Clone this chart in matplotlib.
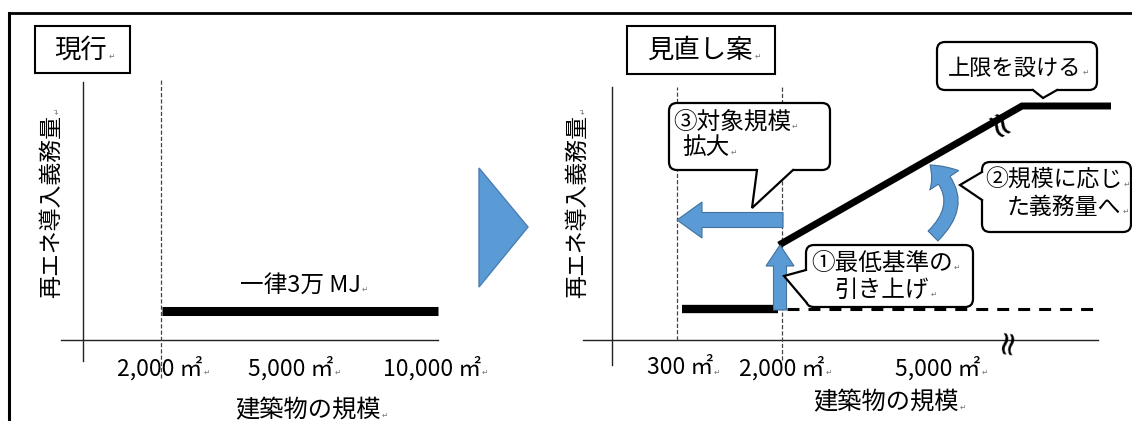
import matplotlib
matplotlib.use('Agg')
import matplotlib.pyplot as plt
from matplotlib.patches import FancyBboxPatch, Polygon, FancyArrowPatch, Rectangle

plt.rcParams['font.family'] = ['Noto Sans CJK JP', 'DejaVu Sans']
plt.rcParams['lines.scale_dashes'] = False

# ---- schematic data (units ~ px, origin where the two axes cross, y up) ----
# current rule
now_ticks = [77, 208, 349]
now_tick_labels = ['2,000 ㎡', '5,000 ㎡', '10,000 ㎡']
now_threshold = 78
now_level_x = [79, 355]
now_level_y = [29, 29]
now_level_label = '一律3万 MJ'

# proposed rule
new_ticks = [68, 170, 326]
new_tick_labels = ['300 ㎡', '2,000 ㎡', '5,000 ㎡']
new_thresholds = [65, 170]
new_low_x = [70, 166]
new_low_y = [31, 31]
old_level_x = [175, 486]
old_level_y = [31, 31]
new_rise_x = [167, 410, 499]
new_rise_y = [95, 234, 234]

BLUE = '#5B9BD5'
EDGE = '#41719C'
W, H = 1132, 421

fig = plt.figure(figsize=(W / 100, H / 100), dpi=100)


def panel(ox, oy):
    ax = fig.add_axes([0, 0, 1, 1])
    ax.set_xlim(-ox, W - ox)
    ax.set_ylim(oy - H, oy)
    ax.set_facecolor('none')
    ax.axis('off')
    return ax


axL = panel(83, 340)
axR = panel(612, 340)
top = fig.add_axes([0, 0, 1, 1])
top.set_xlim(0, W)
top.set_ylim(H, 0)
top.set_facecolor('none')
top.axis('off')

texts = []  # every text gets a small paragraph mark like in the source doc

# ---------------- left panel: 現行 ----------------
axL.plot([-22, 355], [0, 0], color='#222', lw=1)
axL.plot([0, 0], [-21, 258], color='#222', lw=1)
axL.plot([now_threshold] * 2, [-38, 260], color='#444', lw=0.9, dashes=(3, 1.5))
axL.plot(now_level_x, now_level_y, color='black', lw=6.5, solid_capstyle='butt')
texts.append(axL.text(217, 55, now_level_label, ha='center', va='center', fontsize=17))
for p, s in zip(now_ticks, now_tick_labels):
    texts.append(axL.text(p, -28, s, ha='center', va='center', fontsize=16.5))
texts.append(axL.text(225, -70, '建築物の規模', ha='center', va='center', fontsize=17.5))
ylabL = axL.text(-31, 134, '再エネ導入義務量', rotation=90, ha='center', va='center',
                 fontsize=16.5)

# ---------------- right panel: 見直し案 ----------------
axR.plot([-29, 486], [0, 0], color='#222', lw=1)
axR.plot([0, 0], [-25, 253], color='#222', lw=1)
axR.plot([new_thresholds[0]] * 2, [0, 253], color='#444', lw=0.9, dashes=(3, 1.5))
axR.plot([new_thresholds[1]] * 2, [-20, 253], color='#444', lw=0.9, dashes=(3, 1.5))
axR.plot(new_low_x, new_low_y, color='black', lw=6, solid_capstyle='butt')
axR.plot(old_level_x, old_level_y, color='black', lw=2.2, dashes=(8.6, 6.5))
axR.plot(new_rise_x, new_rise_y, color='black', lw=5, solid_capstyle='butt',
         solid_joinstyle='miter')
# break marks
axR.text(385, 219, '≈', rotation=120, ha='center', va='center', fontsize=26,
         family='DejaVu Sans')
axR.text(395, 0, '≈', rotation=82, ha='center', va='center', fontsize=24,
         family='DejaVu Sans')

for p, s in zip(new_ticks, new_tick_labels):
    texts.append(axR.text(p, -28, s, ha='center', va='center', fontsize=16.5))
texts.append(axR.text(274, -62, '建築物の規模', ha='center', va='center', fontsize=17.5))
ylabR = axR.text(-34, 134, '再エネ導入義務量', rotation=90, ha='center', va='center',
                 fontsize=16.5)

# blue arrows
axR.arrow(168, 30, 0, 65, width=13, head_width=28, head_length=21,
          length_includes_head=True, fc=BLUE, ec=EDGE, lw=0.8, zorder=4)
axR.arrow(171, 120, -106, 0, width=15, head_width=36, head_length=25,
          length_includes_head=True, fc=BLUE, ec=EDGE, lw=0.8, zorder=4)
axR.add_patch(FancyArrowPatch((321, 104), (318, 175), connectionstyle='arc3,rad=0.55',
                              arrowstyle='simple,head_length=15,head_width=25,tail_width=10',
                              mutation_scale=1, fc=BLUE, ec=EDGE, lw=0.8,
                              shrinkA=0, shrinkB=0, zorder=4))

# ---------------- frame, titles, triangle ----------------
top.plot([9, 9], [H, 13], color='black', lw=2.2)
top.plot([9, W], [13, 13], color='black', lw=2)
top.add_patch(Rectangle((35, 26), 95, 47, fc='white', ec='black', lw=1.5))
texts.append(top.text(81, 50, '現行', ha='center', va='center', fontsize=19))
top.add_patch(Rectangle((627, 26), 148, 48, fc='white', ec='black', lw=1.5))
texts.append(top.text(701, 50, '見直し案', ha='center', va='center', fontsize=19))
top.add_patch(Polygon([(479, 168), (479, 287), (528, 227)], closed=True,
                      fc=BLUE, ec='#4A7EB5', lw=1))


def callout(box, tail, inward, lines, fs=17):
    x0, y0, x1, y1 = box
    top.add_patch(FancyBboxPatch((x0, y0), x1 - x0, y1 - y0,
                                 boxstyle='round,pad=0,rounding_size=8',
                                 fc='white', ec='black', lw=1.6, zorder=3))
    b1, tip, b2 = tail
    dx, dy = inward
    top.add_patch(Polygon([b1, tip, b2, (b2[0] + 3 * dx, b2[1] + 3 * dy),
                           (b1[0] + 3 * dx, b1[1] + 3 * dy)],
                          closed=True, fc='white', ec='none', zorder=4))
    top.plot([b1[0], tip[0], b2[0]], [b1[1], tip[1], b2[1]], color='black', lw=1.6,
             zorder=5, solid_joinstyle='miter')
    for s, x, y, ha in lines:
        texts.append(top.text(x, y, s, ha=ha, va='center', fontsize=fs, zorder=6))


callout((669, 103, 830, 170), [(757, 170), (752, 208), (793, 170)], (0, -1),
        [('③対象規模', 673, 122, 'left'), ('拡大', 682, 148, 'left')])
callout((806, 245, 973, 307), [(806, 270), (784, 276), (806, 302)], (1, 0),
        [('①最低基準の', 882, 263, 'center'), ('引き上げ', 882, 290, 'center')])
callout((982, 162, 1131, 232), [(982, 172), (960, 185), (982, 200)], (1, 0),
        [('②規模に応じ', 985, 180, 'left'), ('た義務量へ', 1007, 207, 'left')], fs=16.5)
callout((937, 42, 1097, 90), [(1033, 90), (1043, 98), (1057, 90)], (0, -1),
        [('上限を設ける', 1015, 68, 'center')], fs=16)

# small paragraph marks (↵) after each text
r = fig.canvas.get_renderer()
for t in texts:
    bb = t.get_window_extent(r)
    fig.text((bb.x1 + 1) / W, (bb.y0 + 3) / H, '↵', fontsize=5.5, color='#777',
             ha='left', va='bottom')
for t in (ylabL, ylabR):
    bb = t.get_window_extent(r)
    fig.text((bb.x1 - 2) / W, (bb.y1 + 1) / H, '↵', fontsize=5.5, color='#777',
             rotation=90, ha='right', va='bottom')

fig.savefig('out.png', dpi=100)
